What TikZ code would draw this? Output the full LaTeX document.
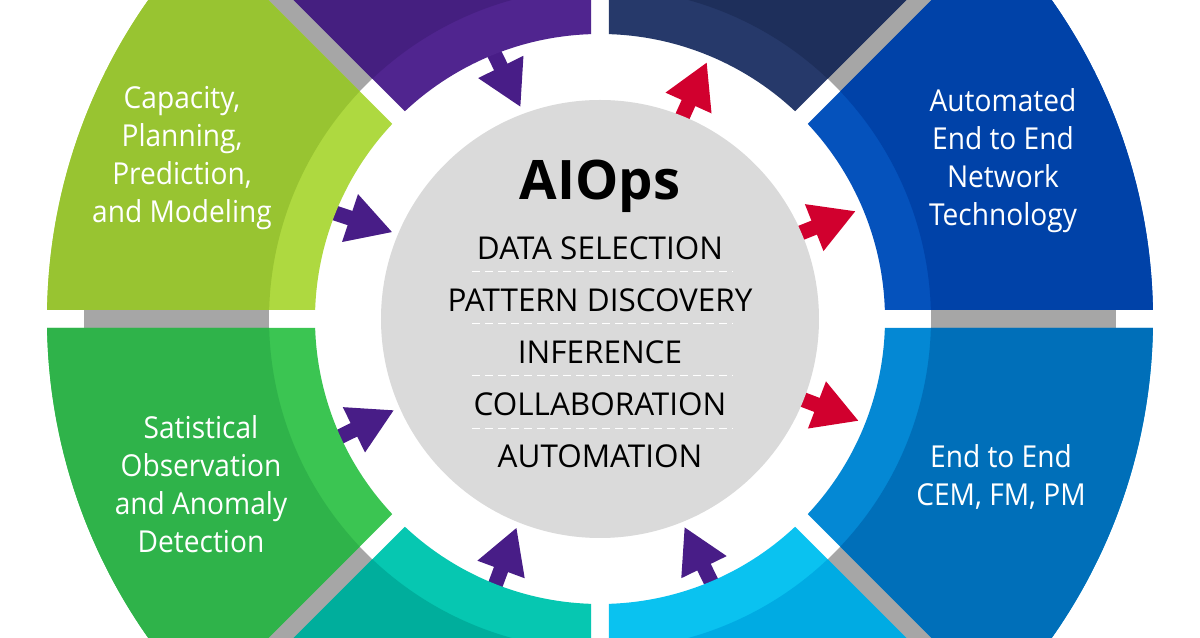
\documentclass[tikz,border=0pt]{standalone}
\usepackage{fontspec}
\setmainfont{Open Sans}
\newfontfamily\wheelfont[FakeStretch=0.93]{Open Sans}
\usetikzlibrary{arrows.meta}
\definecolor{ringgray}{HTML}{A6A6A6}
\definecolor{hubgray}{HTML}{DADADA}
\definecolor{arrowpurple}{HTML}{481D87}
\definecolor{arrowred}{HTML}{D1002E}
\tikzset{
  flowarrow/.style={line width=0.3cm, -{Triangle[length=0.9cm,width=0.94cm]}},
  wheellabel/.style={text=white, align=center, font=\wheelfont\fontsize{17.2}{21.63}\selectfont},
  hublabel/.style={text=black, font=\fontsize{17.9}{20}\selectfont},
  hubline/.style={white, line width=0.02cm, dash pattern=on 0.16cm off 0.1cm},
}
\begin{document}
\begin{tikzpicture}[x=0.02cm,y=0.02cm]
\def\rIn{285}
\def\rMid{331}
\def\rOut{553}
\def\dIn{1.81}
\def\dMid{1.558}
\def\dOut{0.933}
\clip (-600,-319) rectangle (600,319);
\fill[white] (-600,-319) rectangle (600,319);
%
\foreach \a in {0,45,...,315}
  \fill[ringgray,rotate=\a] (\rMid,-9) rectangle (516,9);
%
\coordinate (tailNavy) at (75,186);      \coordinate (tipNavy) at (107,257);
\coordinate (tailBlue) at (188,81);      \coordinate (tipBlue) at (256,108);
\coordinate (tailMid) at (191,-76);      \coordinate (tipMid) at (259,-102);
\coordinate (tailCyan) at (120,-281);    \coordinate (tipCyan) at (84.3,-207.7);
\coordinate (tailTeal) at (-110.3,-281); \coordinate (tipTeal) at (-83.3,-208.3);
\coordinate (tailGreen) at (-275,-125);  \coordinate (tipGreen) at (-205.7,-91);
\coordinate (tailLime) at (-281.3,111.4);\coordinate (tipLime) at (-207.3,86.7);
\coordinate (tailPurple) at (-113.3,280.7); \coordinate (tipPurple) at (-79.3,211.7);
%
\foreach \p in {Navy,Blue,Mid}
  \draw[flowarrow,arrowred] (tail\p) -- (tip\p);
\foreach \p in {Cyan,Teal,Green,Lime,Purple}
  \draw[flowarrow,arrowpurple] (tail\p) -- (tip\p);
%
\foreach \a/\cDark/\cLight in {
    0/0042A8/0552BC, 45/1E2F5B/26396A, 90/451F80/50258F, 135/98C431/AED940,
    180/2FB34A/3BC552, 225/00AE9C/06C7B1, 270/00ABE3/0AC2F0, 315/006FB9/0488D4}{
  \definecolor{wedgeDark}{HTML}{\cDark}
  \definecolor{wedgeLight}{HTML}{\cLight}
  \fill[wedgeLight] (\a+\dOut:\rOut) arc[start angle=\a+\dOut,end angle=\a+45-\dOut,radius=\rOut]
    -- (\a+45-\dIn:\rIn) arc[start angle=\a+45-\dIn,end angle=\a+\dIn,radius=\rIn] -- cycle;
  \fill[wedgeDark] (\a+\dOut:\rOut) arc[start angle=\a+\dOut,end angle=\a+45-\dOut,radius=\rOut]
    -- (\a+45-\dMid:\rMid) arc[start angle=\a+45-\dMid,end angle=\a+\dMid,radius=\rMid] -- cycle;
}
%
\fill[hubgray] (0,0) circle (219);
%
\node[font=\fontsize{31}{34}\bfseries] (aiops) at (0,133) {AIOps};
\node[hublabel] (selection) at (0,71) {DATA SELECTION};
\node[hublabel] (pattern) at (0,19) {PATTERN DISCOVERY};
\node[hublabel] (inference) at (0,-33) {INFERENCE};
\node[hublabel] (collab) at (0,-85) {COLLABORATION};
\node[hublabel] (automation) at (0,-137) {AUTOMATION};
\foreach \y in {47.5,-4.5,-57,-110}
  \draw[hubline] (-128,\y) -- (133,\y);
%
\node[wheellabel] (capacity) at (-418,161) {Capacity,\\Planning,\\Prediction,\\and Modeling};
\node[wheellabel] (statistical) at (-399,-165) {Satistical\\Observation\\and Anomaly\\Detection};
\node[wheellabel] (network) at (403,158) {Automated\\End to End\\Network\\Technology};
\node[wheellabel] (cem) at (401,-158) {End to End\\CEM, FM, PM};
\end{tikzpicture}
\end{document}
